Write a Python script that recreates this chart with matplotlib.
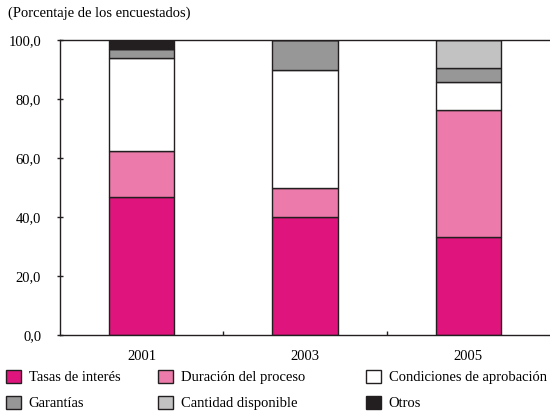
import matplotlib
matplotlib.use("Agg")
import matplotlib.pyplot as plt
from matplotlib.patches import Patch
from matplotlib.ticker import FixedLocator
import numpy as np

plt.rcParams['font.family'] = ['Liberation Serif', 'DejaVu Serif']

years = ["2001", "2003", "2005"]
series_names = ["Tasas de interés", "Duración del proceso", "Condiciones de aprobación",
                "Garantías", "Cantidad disponible", "Otros"]
tasas = [46.9, 40.0, 33.3]
duracion = [15.6, 10.0, 42.9]
condiciones = [31.3, 40.0, 9.5]
garantias = [3.1, 10.0, 4.8]
cantidad = [0.0, 0.0, 9.5]
otros = [3.1, 0.0, 0.0]
yticks = [0, 20, 40, 60, 80, 100]
ytick_labels = ["0,0", "20,0", "40,0", "60,0", "80,0", "100,0"]

colors = ["#E0147D", "#EC7AAA", "#FFFFFF", "#979797", "#C2C2C2", "#231F20"]
edge = "#231F20"
FS = 10.5

fig = plt.figure(figsize=(5.5, 4.12), dpi=100)
ax = fig.add_axes([60/550, 77/412, 490/550, 295/412])

x = np.arange(len(years))
bottom = np.zeros(len(years))
data = [tasas, duracion, condiciones, garantias, cantidad, otros]
for vals, col in zip(data, colors):
    vals = np.array(vals)
    ax.bar(x, vals, width=0.40, bottom=bottom, color=col, edgecolor=edge, linewidth=1.0, zorder=2)
    bottom += vals

ax.set_xlim(-0.5, 2.5)
ax.set_ylim(0, 100)
ax.set_xticks(x)
ax.set_xticklabels(years, fontsize=FS)
ax.xaxis.set_minor_locator(FixedLocator([0.5, 1.5]))
ax.tick_params(axis='x', which='major', length=0, pad=11)
ax.tick_params(axis='x', which='minor', direction='in', length=3, width=1, color=edge)
ax.set_yticks(yticks)
ax.set_yticklabels(ytick_labels, fontsize=FS)
ax.tick_params(axis='y', direction='inout', length=5, width=1, color=edge, pad=11)
ax.spines['right'].set_visible(False)
for s in ['left', 'bottom', 'top']:
    ax.spines[s].set_color(edge)
    ax.spines[s].set_linewidth(1.0)

fig.text(8/550, 1 - 13/412, "(Porcentaje de los encuestados)", fontsize=FS, va='center', ha='left')

handles = [Patch(facecolor=c, edgecolor=edge, linewidth=1.0) for c in colors]
col_x = [6/550, 158/550, 366/550]
columns = [[0, 3], [1, 4], [2, 5]]
for cx, idxs in zip(col_x, columns):
    leg = fig.legend([handles[i] for i in idxs], [series_names[i] for i in idxs],
                     ncol=1, loc='center left', bbox_to_anchor=(cx, 1 - 390/412),
                     frameon=False, fontsize=FS, handlelength=1.0, handleheight=1.0,
                     handletextpad=0.55, labelspacing=0.78, borderaxespad=0.0, borderpad=0.0)

fig.savefig("out.png", dpi=100)
